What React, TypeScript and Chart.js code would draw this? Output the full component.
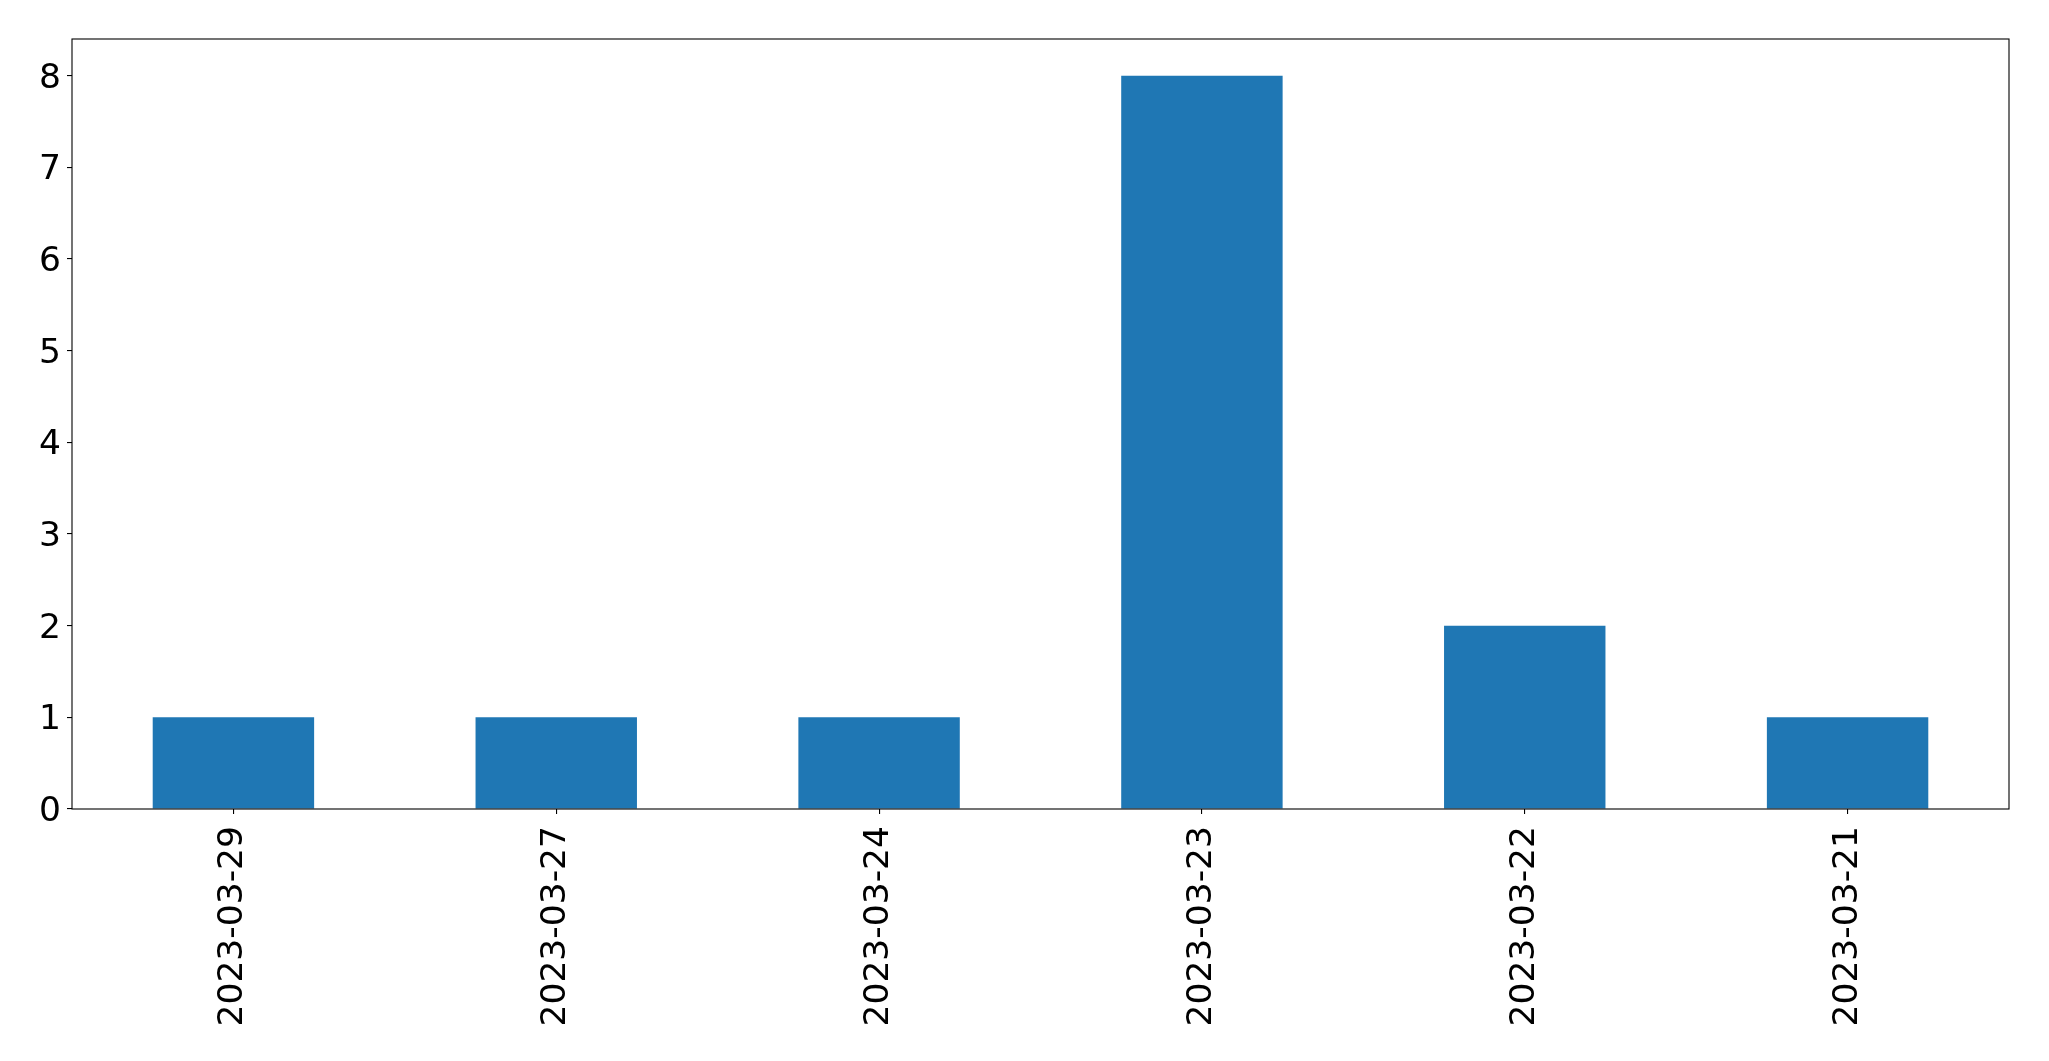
import React, { useEffect, useRef } from "react";
import { Chart, registerables } from "chart.js";

Chart.register(...registerables);

const categories = ["2023-03-29", "2023-03-27", "2023-03-24", "2023-03-23", "2023-03-22", "2023-03-21"];
const counts = [1, 1, 1, 8, 2, 1];
const yTicks = [0, 1, 2, 3, 4, 5, 6, 7, 8];
const yMax = 8.4;

const W = 2049;
const H = 1061;

export default function App() {
  const ref = useRef<HTMLCanvasElement | null>(null);

  useEffect(() => {
    document.body.style.margin = "0";
    const canvas = ref.current!;
    const framePlugin = {
      id: "frame",
      afterUpdate(chart: any) {
        const y = chart.scales.y;
        if (y && y.getLabelItems) {
          const items = y.getLabelItems(chart.chartArea);
          items.forEach((it: any) => {
            if (it.options && it.options.translation) it.options.translation[1] += 3;
          });
        }
      },
      afterDraw(chart: any) {
        const { ctx, chartArea } = chart;
        ctx.save();
        ctx.strokeStyle = "#000";
        ctx.lineWidth = 1.1;
        ctx.strokeRect(chartArea.left, chartArea.top, chartArea.right - chartArea.left, chartArea.bottom - chartArea.top);
        ctx.restore();
      },
    };
    const font = { family: "'DejaVu Sans', sans-serif", size: 34.5 };
    const chart = new Chart(canvas, {
      type: "bar",
      data: {
        labels: categories,
        datasets: [
          {
            data: counts,
            backgroundColor: "#1f77b4",
            borderWidth: 0,
            categoryPercentage: 1,
            barPercentage: 0.5,
          },
        ],
      },
      options: {
        responsive: false,
        animation: false,
        devicePixelRatio: 1,
        layout: { padding: { left: 0, top: 39, right: 40, bottom: 0 } },
        plugins: { legend: { display: false }, tooltip: { enabled: false } },
        scales: {
          x: {
            offset: true,
            grid: { display: true, offset: false, drawOnChartArea: false, drawTicks: true, tickLength: 5, color: "#000", lineWidth: 1.1 },
            border: { display: false },
            ticks: { color: "#000", font, minRotation: 90, maxRotation: 90, padding: 12, autoSkip: false },
            afterFit(scale: any) {
              scale.height = 252;
            },
          },
          y: {
            min: 0,
            max: yMax,
            grid: { display: true, drawOnChartArea: false, drawTicks: true, tickLength: 5, color: "#000", lineWidth: 1.1 },
            border: { display: false },
            ticks: { color: "#000", font, padding: 6 },
            afterBuildTicks(scale: any) {
              scale.ticks = yTicks.map((v) => ({ value: v }));
            },
            afterFit(scale: any) {
              scale.width = 72;
            },
          },
        },
      },
      plugins: [framePlugin],
    });
    return () => chart.destroy();
  }, []);

  return (
    <div style={{ position: "absolute", left: 0, top: 0, width: W, height: H, background: "#fff" }}>
      <canvas ref={ref} width={W} height={H} style={{ width: W, height: H, display: "block" }} />
    </div>
  );
}
